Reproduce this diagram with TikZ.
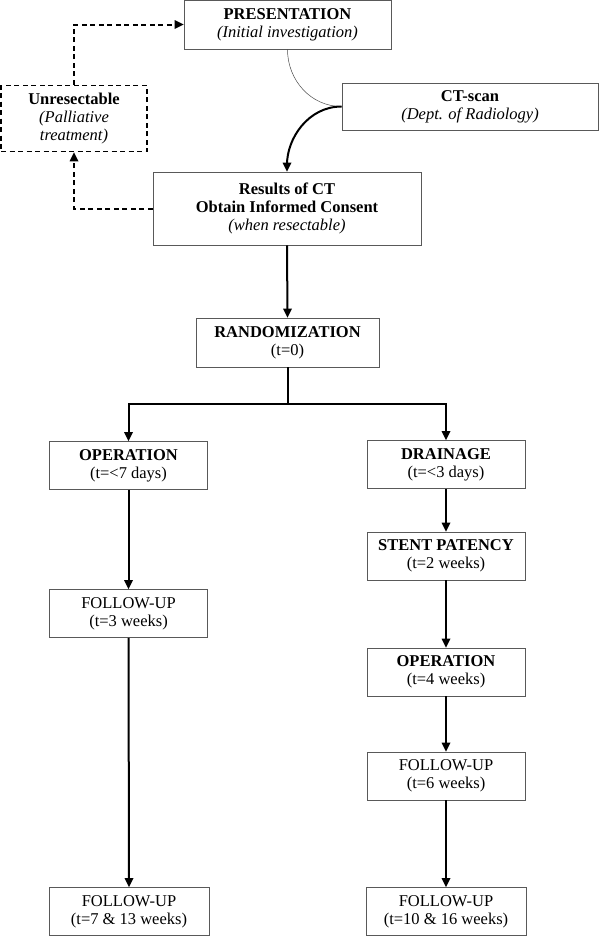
\documentclass[tikz,border=0pt]{standalone}
\usepackage{fontspec}
\setmainfont{Liberation Serif}

\begin{document}
\begin{tikzpicture}[x=1pt,y=1pt]
\tikzstyle{every node}+=[inner sep=0pt,font=\fontsize{16.5}{18.3}\selectfont]
\tikzstyle{box}=[draw=black!65,line width=0.9pt,align=center,minimum width=158pt,minimum height=48pt]
\tikzstyle{dashbox}=[draw=black,dash pattern=on 5pt off 3.5pt,line width=1.9pt,align=center,minimum width=146pt,minimum height=66pt]
\tikzstyle{flow}=[draw=black,line width=2pt,shorten >=7pt]
\tikzstyle{backflow}=[flow,dash pattern=on 5pt off 3.5pt]
\useasboundingbox (0,0) rectangle (600,-937);
% top part
\node [box,minimum width=207pt,minimum height=49pt] (pres) at (287.5,-24.5) {\textbf{PRESENTATION}\\\textit{(Initial investigation)}};
\node [box,minimum width=256pt,minimum height=47pt] (ct) at (470,-106.5) {\textbf{CT-scan}\\\textit{(Dept. of Radiology)}};
\node [dashbox] (unres) at (74,-118.5) {\textbf{Unresectable}\\\textit{(Palliative}\\\textit{treatment)}};
\node [box,minimum width=268pt,minimum height=73pt] (results) at (287,-208.5) {\textbf{Results of CT}\\\textbf{Obtain Informed Consent}\\\textit{(when resectable)}};
\node [box,minimum width=183pt,minimum height=49pt] (rand) at (287.5,-342.5) {\textbf{RANDOMIZATION}\\(t=0)};
% left arm
\node [box] (op1) at (128.5,-465.5) {\textbf{OPERATION}\\(t=<7 days)};
\node [box] (fu1) at (128.5,-613.5) {FOLLOW-UP\\(t=3 weeks)};
\node [box,minimum width=160pt] (fu2) at (129,-911.5) {FOLLOW-UP\\(t=7 \& 13 weeks)};
% right arm
\node [box] (drain) at (446,-464.5) {\textbf{DRAINAGE}\\(t=<3 days)};
\node [box] (stent) at (446,-556) {\textbf{STENT PATENCY}\\(t=2 weeks)};
\node [box] (op2) at (446,-672) {\textbf{OPERATION}\\(t=4 weeks)};
\node [box] (fu3) at (446,-776) {FOLLOW-UP\\(t=6 weeks)};
\node [box,minimum width=160pt] (fu4) at (446,-911.5) {FOLLOW-UP\\(t=10 \& 16 weeks)};
\coordinate (split) at (287.5,-404);
% connectors
\draw [line width=0.5pt,black!70] (pres.south) to[out=-90,in=180] (ct.west);
\draw [flow] (ct.west) to[out=180,in=90] (results.north);
\fill (results.north) -- ++(-4.5,9) -- ++(9,0) -- cycle;
\draw [backflow] (unres.north) |- (pres.west);
\fill (pres.west) -- ++(-9,4.5) -- ++(0,-9) -- cycle;
\draw [backflow] (results.west) -| (unres.south);
\fill (unres.south) -- ++(-4.5,-9) -- ++(9,0) -- cycle;
\draw [flow] (results.south) -- (rand.north);
\fill (rand.north) -- ++(-4.5,9) -- ++(9,0) -- cycle;
\draw [line width=2pt] (rand.south) -- (split);
\draw [flow] (split) -| (op1.north);
\fill (op1.north) -- ++(-4.5,9) -- ++(9,0) -- cycle;
\draw [flow] (split) -| (drain.north);
\fill (drain.north) -- ++(-4.5,9) -- ++(9,0) -- cycle;
\draw [flow] (op1.south) -- (fu1.north);
\fill (fu1.north) -- ++(-4.5,9) -- ++(9,0) -- cycle;
\draw [flow] (fu1.south) -- (fu2.north);
\fill (fu2.north) -- ++(-4.5,9) -- ++(9,0) -- cycle;
\draw [flow] (drain.south) -- (stent.north);
\fill (stent.north) -- ++(-4.5,9) -- ++(9,0) -- cycle;
\draw [flow] (stent.south) -- (op2.north);
\fill (op2.north) -- ++(-4.5,9) -- ++(9,0) -- cycle;
\draw [flow] (op2.south) -- (fu3.north);
\fill (fu3.north) -- ++(-4.5,9) -- ++(9,0) -- cycle;
\draw [flow] (fu3.south) -- (fu4.north);
\fill (fu4.north) -- ++(-4.5,9) -- ++(9,0) -- cycle;
\end{tikzpicture}
\end{document}
